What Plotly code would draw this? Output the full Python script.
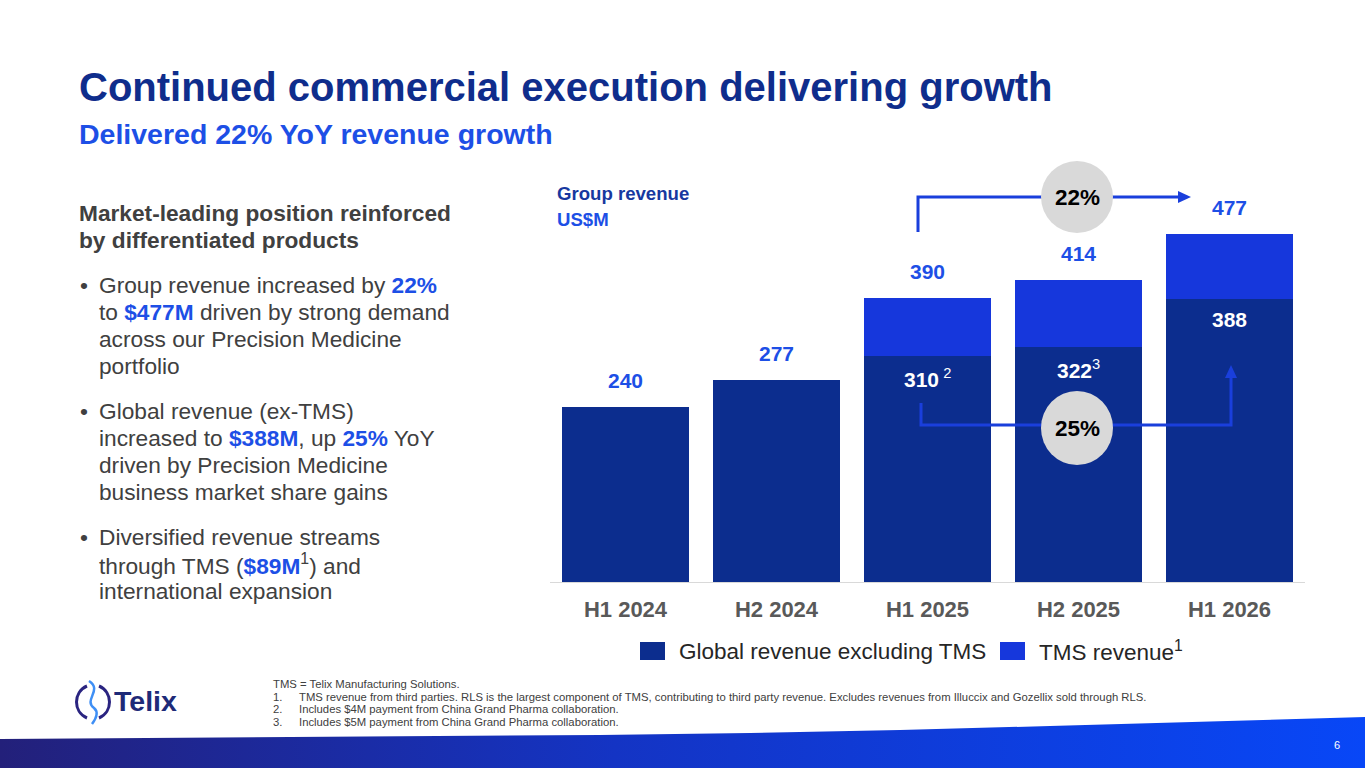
import plotly.graph_objects as go

# chart data
categories = ["H1 2024", "H2 2024", "H1 2025", "H2 2025", "H1 2026"]
global_ex_tms = [240, 277, 310, 322, 388]
tms_revenue = [0, 0, 80, 92, 89]
inner_notes = ["", "", " 2", "3", ""]
series_names = ["Global revenue excluding TMS", "TMS revenue<sup>1</sup>"]
growth_total = "22%"
growth_ex_tms = "25%"

totals = [a + b for a, b in zip(global_ex_tms, tms_revenue)]

FONT = "Arial, Liberation Sans, sans-serif"
NAVY = "#0c2d8e"
BRIGHT = "#1637dc"
LINK = "#1d4fe6"
TITLE = "#0f2d8c"
GREY = "#404040"

W, H = 1365, 768

fig = go.Figure()

fig.add_trace(go.Bar(x=categories, y=global_ex_tms, name=series_names[0],
                     marker=dict(color=NAVY, line=dict(width=0)),
                     showlegend=False, hoverinfo="skip"))
fig.add_trace(go.Bar(x=categories, y=tms_revenue, name=series_names[1],
                     marker=dict(color=BRIGHT, line=dict(width=0)),
                     showlegend=False, hoverinfo="skip"))

# bottom wave band (pixel coords on overlay axes)
band_x = [0, 150, 300, 450, 600, 750, 900, 1050, 1200, 1365, 1365, 0]
band_y = [739, 738, 737, 736, 735, 733, 730, 726, 722, 717, 768, 768]
fig.add_trace(go.Scatter(x=band_x, y=band_y, xaxis="x2", yaxis="y2",
                         mode="lines", fill="toself", line=dict(width=0),
                         fillgradient=dict(type="horizontal",
                                           colorscale=[[0, "#23207a"], [0.45, "#1434c4"], [1, "#0847f7"]]),
                         showlegend=False, hoverinfo="skip"))


def txt(text, x, y, size, color, bold=False, xanchor="left", yanchor="middle"):
    if bold:
        text = "<b>" + text + "</b>"
    fig.add_annotation(text=text, x=x, y=y, xref="x2", yref="y2", showarrow=False,
                       xanchor=xanchor, yanchor=yanchor, align="left",
                       font=dict(family=FONT, size=size, color=color))


def blue(s):
    return "<span style='color:%s'><b>%s</b></span>" % (LINK, s)


# titles
txt("Continued commercial execution delivering growth", 77, 87, 40, TITLE, bold=True)
txt("Delivered 22% YoY revenue growth", 77, 134, 28.5, LINK, bold=True)

# left column
txt("Market-leading position reinforced", 77, 213, 22.7, GREY, bold=True)
txt("by differentiated products", 77, 240, 22.7, GREY, bold=True)

bullets = [
    ["Group revenue increased by " + blue("22%"),
     "to " + blue("$477M") + " driven by strong demand",
     "across our Precision Medicine",
     "portfolio"],
    ["Global revenue (ex-TMS)",
     "increased to " + blue("$388M") + ", up " + blue("25%") + " YoY",
     "driven by Precision Medicine",
     "business market share gains"],
    ["Diversified revenue streams",
     "through TMS (" + blue("$89M") + "<sup>1</sup>) and",
     "international expansion"],
]
starts = [285, 411, 537]
for lines, y0 in zip(bullets, starts):
    txt("•", 78, y0, 22.7, GREY)
    for i, line in enumerate(lines):
        txt(line, 97, y0 + i * 27, 22.7, GREY)

# chart header
txt("Group revenue", 555, 193, 18.6, "#17389f", bold=True)
txt("US$M", 555, 219, 18.6, LINK, bold=True)

# value labels
for c, t in zip(categories, totals):
    fig.add_annotation(text="<b>%d</b>" % t, x=c, y=t, xref="x", yref="y",
                       showarrow=False, yanchor="bottom", yshift=13,
                       font=dict(family=FONT, size=21, color=LINK))
for c, v, extra, n in zip(categories, global_ex_tms, tms_revenue, inner_notes):
    if extra > 0:
        label = "<b>%d</b>" % v
        if n:
            label += "<sup>%s</sup>" % n
        fig.add_annotation(text=label, x=c, y=v, xref="x", yref="y",
                           showarrow=False, yanchor="top", yshift=-7,
                           font=dict(family=FONT, size=21, color="white"))

# growth connectors
shapes = []
lc = dict(color="#1a3fdc", width=3)
shapes.append(dict(type="path", path="M 918,232 L 918,197 L 1045,197", line=lc))
shapes.append(dict(type="path", path="M 1110,197 L 1180,197", line=lc))
shapes.append(dict(type="path", path="M 1178,191 L 1191,197 L 1178,203 Z",
                   fillcolor="#1a3fdc", line=dict(width=0)))
shapes.append(dict(type="path", path="M 921,403 L 921,425 L 1045,425", line=lc))
shapes.append(dict(type="path", path="M 1110,425 L 1231,425 L 1231,378", line=lc))
shapes.append(dict(type="path", path="M 1225,378 L 1231,365 L 1237,378 Z",
                   fillcolor="#1a3fdc", line=dict(width=0)))
shapes.append(dict(type="circle", x0=1041, x1=1113, y0=161, y1=233,
                   fillcolor="#d9d9d9", line=dict(width=0)))
shapes.append(dict(type="circle", x0=1041, x1=1113, y0=391, y1=465,
                   fillcolor="#d9d9d9", line=dict(width=0)))

# legend
shapes.append(dict(type="rect", x0=640, x1=665, y0=642, y1=660, fillcolor=NAVY, line=dict(width=0)))
shapes.append(dict(type="rect", x0=1000, x1=1025, y0=642, y1=660, fillcolor=BRIGHT, line=dict(width=0)))

# logo mark
shapes.append(dict(type="path", path="M 87,686 C 73,692 73,712 87,718", line=dict(color="#2a2480", width=3)))
shapes.append(dict(type="path", path="M 99,686 C 113,692 113,712 99,718", line=dict(color="#2a2480", width=3)))
shapes.append(dict(type="path", path="M 89,681 C 103,690 83,700 94,708 C 100,713 95,720 92,724",
                   line=dict(color="#3f8ff5", width=2.5)))

for s in shapes:
    s["xref"] = "x2"
    s["yref"] = "y2"
    s["layer"] = "above"
fig.update_layout(shapes=shapes)

txt(growth_total, 1077, 197, 22.5, "black", bold=True, xanchor="center")
txt(growth_ex_tms, 1077, 428, 22.5, "black", bold=True, xanchor="center")

txt(series_names[0], 677, 651, 22.5, "#262626")
txt(series_names[1], 1037, 651, 22.5, "#262626")

txt("Telix", 112, 701, 28.5, "#1e2a78", bold=True)

# footnotes
FN = 11.3
txt("TMS = Telix Manufacturing Solutions.", 271, 684, FN, GREY)
notes = [
    "TMS revenue from third parties. RLS is the largest component of TMS, contributing to third party revenue. "
    "Excludes revenues from Illuccix and Gozellix sold through RLS.",
    "Includes $4M payment from China Grand Pharma collaboration.",
    "Includes $5M payment from China Grand Pharma collaboration.",
]
for i, n in enumerate(notes):
    txt("%d." % (i + 1), 271, 696.5 + i * 12.5, FN, GREY)
    txt(n, 297, 696.5 + i * 12.5, FN, GREY)

txt("6", 1337, 745, 11, "white", xanchor="center")

fig.update_layout(
    width=W, height=H,
    margin=dict(l=0, r=0, t=0, b=0),
    paper_bgcolor="white",
    plot_bgcolor="rgba(0,0,0,0)",
    barmode="stack",
    bargap=0.16,
    showlegend=False,
    xaxis=dict(domain=[550 / W, 1305 / W], range=[-0.5, 4.5], showgrid=False,
               showline=True, linecolor="#d9d9d9", linewidth=1, ticks="",
               tickfont=dict(family=FONT, size=22, color="#595959"),
               tickvals=categories, ticktext=["<b>%s</b>" % c for c in categories],
               ticklabelstandoff=8, fixedrange=True),
    yaxis=dict(domain=[1 - 582 / H, 1 - 582 / H + 500 * 175 / 240 / H], range=[0, 500],
               visible=False, fixedrange=True),
    xaxis2=dict(domain=[0, 1], range=[0, W], anchor="y2", visible=False, fixedrange=True),
    yaxis2=dict(domain=[0, 1], range=[H, 0], anchor="x2", visible=False, fixedrange=True),
)

fig.write_html("out.html", config={"displayModeBar": False},
               post_script="document.body.style.margin='0';document.body.style.overflow='hidden';")
